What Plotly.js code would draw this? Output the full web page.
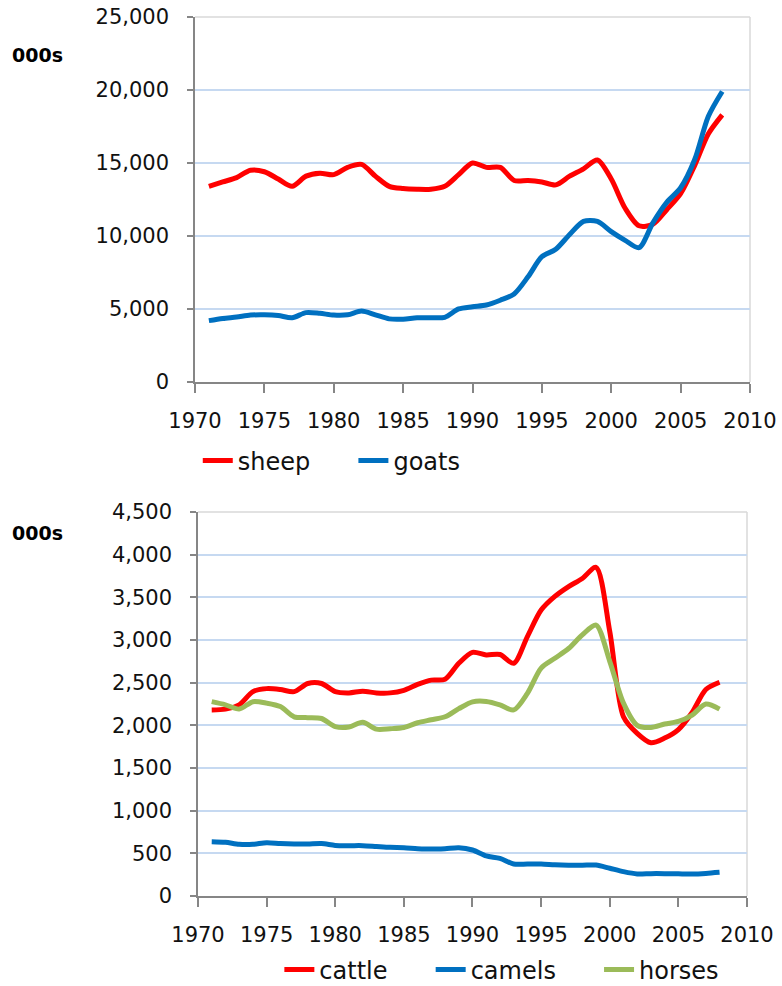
<!DOCTYPE html>
<html>
<head>
<meta charset="utf-8">
<script src="https://cdn.plot.ly/plotly-3.0.1.min.js"></script>
<style>
  body { margin: 0; background: #fff; }
  #plot01 { width: 782px; height: 986px; }
</style>
</head>
<body>
<div id="plot01"></div>
<script>
const years = [1971, 1972, 1973, 1974, 1975, 1976, 1977, 1978, 1979, 1980,
               1981, 1982, 1983, 1984, 1985, 1986, 1987, 1988, 1989, 1990,
               1991, 1992, 1993, 1994, 1995, 1996, 1997, 1998, 1999, 2000,
               2001, 2002, 2003, 2004, 2005, 2006, 2007, 2008];

// top chart, thousands of head
const sheep = [13400, 13700, 14000, 14500, 14400, 13900, 13400, 14100, 14300, 14200,
               14700, 14900, 14100, 13400, 13250, 13200, 13200, 13400, 14200, 15000,
               14700, 14700, 13800, 13800, 13700, 13500, 14100, 14600, 15200, 13900,
               11900, 10700, 10800, 11800, 12900, 14800, 17000, 18300];
const goats = [4200, 4350, 4450, 4580, 4600, 4550, 4400, 4750, 4700, 4580,
               4600, 4860, 4600, 4320, 4300, 4400, 4400, 4430, 5000, 5150,
               5270, 5600, 6030, 7200, 8580, 9090, 10100, 11000, 11000, 10300,
               9700, 9200, 10900, 12300, 13300, 15200, 18200, 19900];

// bottom chart
const cattle = [2180, 2190, 2240, 2395, 2430, 2420, 2395, 2490, 2490, 2395,
                2380, 2400, 2380, 2380, 2410, 2480, 2530, 2540, 2727, 2855,
                2825, 2830, 2727, 3040, 3350, 3510, 3625, 3720, 3850, 3100,
                2100, 1905, 1795, 1850, 1950, 2150, 2420, 2505];
const camels = [637, 630, 605, 605, 625, 615, 610, 610, 615, 593,
                590, 590, 580, 570, 566, 555, 550, 555, 566, 539,
                470, 441, 375, 375, 375, 365, 360, 360, 363, 325,
                285, 258, 262, 262, 260, 258, 265, 277];
const horses = [2277, 2240, 2190, 2277, 2260, 2220, 2100, 2090, 2080, 1985,
                1980, 2035, 1955, 1960, 1975, 2030, 2065, 2100, 2195, 2275,
                2280, 2240, 2180, 2375, 2670, 2785, 2900, 3060, 3175, 2750,
                2260, 2000, 1975, 2015, 2045, 2120, 2250, 2190];

const RED = '#FF0000', BLUE = '#0070C0', GREEN = '#9BBB59';
const FONT = 'DejaVu Sans';
const PAD = '\u00a0\u00a0\u00a0\u00a0\u00a0';   // room after each legend label

function lineTrace(name, y, color, xa, ya, legend) {
    return {
        type: 'scatter', mode: 'lines', name: name + PAD,
        x: years, y: y, xaxis: xa, yaxis: ya, legend: legend,
        line: { color: color, width: 5, shape: 'spline', smoothing: 0.8 },
        hovertemplate: name + ': %{y:,}<extra></extra>'
    };
}

const data = [
    lineTrace('sheep', sheep, RED, 'x', 'y', 'legend'),
    lineTrace('goats', goats, BLUE, 'x', 'y', 'legend'),
    lineTrace('cattle', cattle, RED, 'x2', 'y2', 'legend2'),
    lineTrace('camels', camels, BLUE, 'x2', 'y2', 'legend2'),
    lineTrace('horses', horses, GREEN, 'x2', 'y2', 'legend2'),
];

const xBase = {
    range: [1970, 2010], tick0: 1970, dtick: 5,
    showgrid: false, zeroline: false,
    showline: true, linecolor: '#868686', linewidth: 1.5,
    ticks: 'outside', ticklen: 9, tickcolor: '#868686', tickwidth: 1.5,
    ticklabelstandoff: 10,
    tickfont: { family: FONT, size: 21, color: '#111' },
    fixedrange: true
};
const yBase = {
    showgrid: true, gridcolor: '#C6D9F1', gridwidth: 1.5,
    zeroline: false, tickformat: ',d',
    showline: true, linecolor: '#868686', linewidth: 1.5,
    ticks: 'outside', ticklen: 6, tickcolor: '#868686', tickwidth: 1.5,
    ticklabelstandoff: 14,
    tickfont: { family: FONT, size: 21, color: '#111' },
    fixedrange: true
};

function border(xa, ya) {
    const s = { type: 'line', xref: xa + ' domain', yref: ya + ' domain',
                line: { color: '#D9D9D9', width: 1.5 }, layer: 'below' };
    return [
        Object.assign({}, s, { x0: 0, x1: 1, y0: 1, y1: 1 }),
        Object.assign({}, s, { x0: 1, x1: 1, y0: 0, y1: 1 })
    ];
}

const legendFont = { family: FONT, size: 24, color: '#111' };

const layout = {
    width: 782, height: 986,
    margin: { l: 195, r: 32, t: 17, b: 90, autoexpand: false },
    paper_bgcolor: 'white', plot_bgcolor: 'white',
    font: { family: FONT },
    showlegend: true,
    xaxis: Object.assign({}, xBase, { domain: [0, 1], anchor: 'y' }),
    yaxis: Object.assign({}, yBase, { domain: [0.5848, 1], range: [0, 25000], dtick: 5000, anchor: 'x' }),
    xaxis2: Object.assign({}, xBase, { domain: [0.0054, 0.9946], anchor: 'y2' }),
    yaxis2: Object.assign({}, yBase, { domain: [0, 0.4369], range: [0, 4500], dtick: 500, anchor: 'x2' }),
    legend: {
        orientation: 'h', x: 0.005, xanchor: 'left', y: 0.495, yanchor: 'middle',
        font: legendFont, itemwidth: 30, bgcolor: 'rgba(0,0,0,0)'
    },
    legend2: {
        orientation: 'h', x: 0.152, xanchor: 'left', y: -0.084, yanchor: 'middle',
        font: legendFont, itemwidth: 30, bgcolor: 'rgba(0,0,0,0)'
    },
    shapes: border('x', 'y').concat(border('x2', 'y2')),
    annotations: [
        { xref: 'paper', yref: 'paper', x: -0.333, y: 0.9568, xanchor: 'left', yanchor: 'middle',
          text: '<b>000s</b>', showarrow: false, font: { family: FONT, size: 19, color: '#000' } },
        { xref: 'paper', yref: 'paper', x: -0.333, y: 0.413, xanchor: 'left', yanchor: 'middle',
          text: '<b>000s</b>', showarrow: false, font: { family: FONT, size: 19, color: '#000' } }
    ],
    hovermode: 'closest'
};

const config = { displayModeBar: false, responsive: false, scrollZoom: false };

Plotly.newPlot('plot01', data, layout, config);
</script>
</body>
</html>
